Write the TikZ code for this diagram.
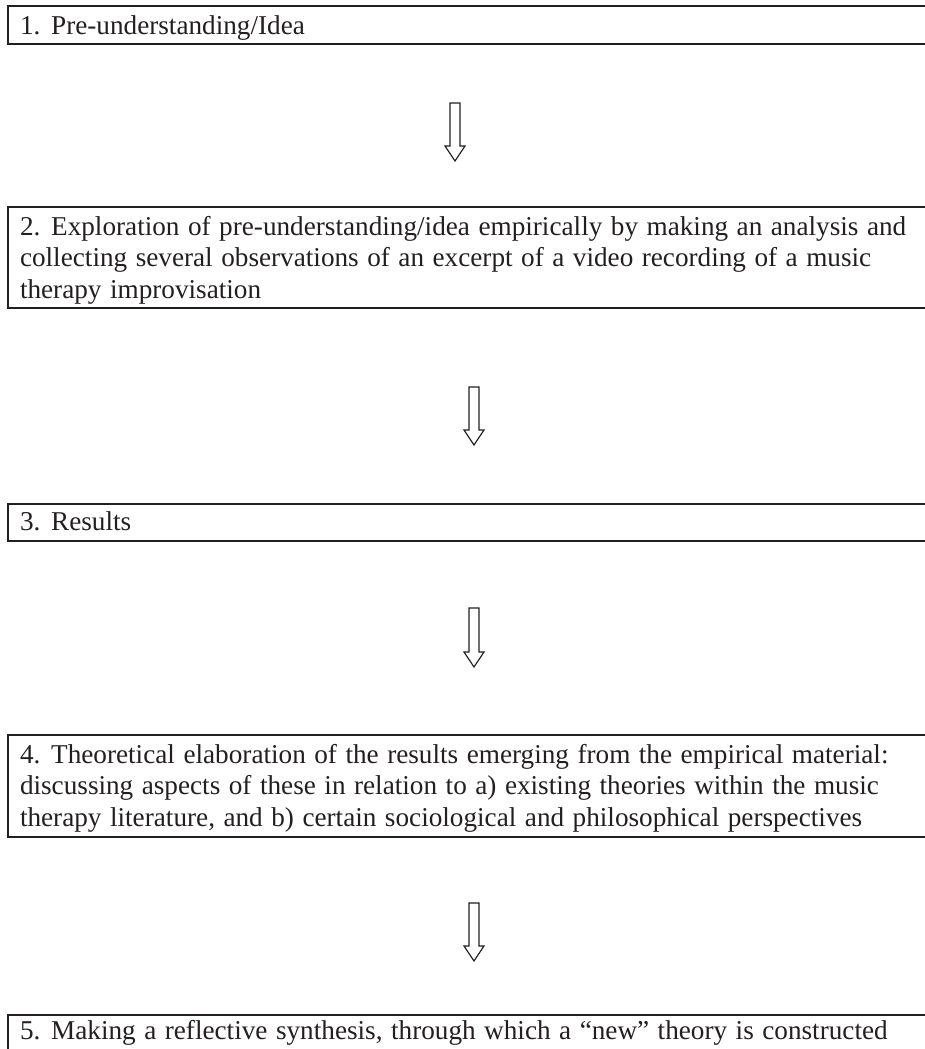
\documentclass[tikz,border=0pt]{standalone}
\usepackage{fontspec}
\setmainfont{Liberation Serif}
\definecolor{ink}{RGB}{35,31,32}
\newcommand\stagetext[1]{\parbox[t]{916pt}{\raggedright\spaceskip=8.5pt\relax #1}}
\begin{document}
\begin{tikzpicture}[x=1pt,y=1pt,
  stagebox/.style={draw=ink, line width=2pt, anchor=north west, inner xsep=12pt, inner ysep=0pt,
    text=ink, font=\fontsize{27.2pt}{31.5pt}\selectfont},
  blockarrow/.style={draw=ink, line width=1.2pt, line join=miter, fill=white}]
\useasboundingbox (0,0) rectangle (925,-1049);
\clip (0,0) rectangle (925,-1049);
\node[stagebox, text height=29pt, text depth=9pt] (b1) at (7,-5)
  {\stagetext{1. Pre-understanding/Idea}};
\node[stagebox, text height=28pt, text depth=73pt] (b2) at (7,-206)
  {\stagetext{2. Exploration of pre-understanding/idea empirically by making an analysis and\\
   collecting several observations of an excerpt of a video recording of a music\\
   therapy improvisation}};
\node[stagebox, text height=26pt, text depth=11pt] (b3) at (7,-503)
  {\stagetext{3. Results}};
\node[stagebox, text height=28pt, text depth=74pt] (b4) at (7,-734)
  {\stagetext{4. Theoretical elaboration of the results emerging from the empirical material:\\
   discussing aspects of these in relation to a) existing theories within the music\\
   therapy literature, and b) certain sociological and philosophical perspectives}};
\node[stagebox, text height=24pt, text depth=20pt] (b5) at (7,-1014)
  {\stagetext{5. Making a reflective synthesis, through which a \textquotedblleft new\textquotedblright\ theory is constructed}};
% block arrows: top of shaft (t) and tip (h)
\coordinate (a1t) at (455,-103); \coordinate (a1h) at (455,-161);
\coordinate (a2t) at (474,-387); \coordinate (a2h) at (474,-445);
\coordinate (a3t) at (474,-608); \coordinate (a3h) at (474,-667);
\coordinate (a4t) at (474,-903); \coordinate (a4h) at (474,-961);
\foreach \a in {a1,a2,a3,a4}{
  \draw[blockarrow] ([xshift=-5pt]\a t) -- ([xshift=-5pt,yshift=15pt]\a h)
    -- ([xshift=-10pt,yshift=15pt]\a h) -- (\a h) -- ([xshift=10pt,yshift=15pt]\a h)
    -- ([xshift=5pt,yshift=15pt]\a h) -- ([xshift=5pt]\a t) -- cycle;
}
\end{tikzpicture}
\end{document}
